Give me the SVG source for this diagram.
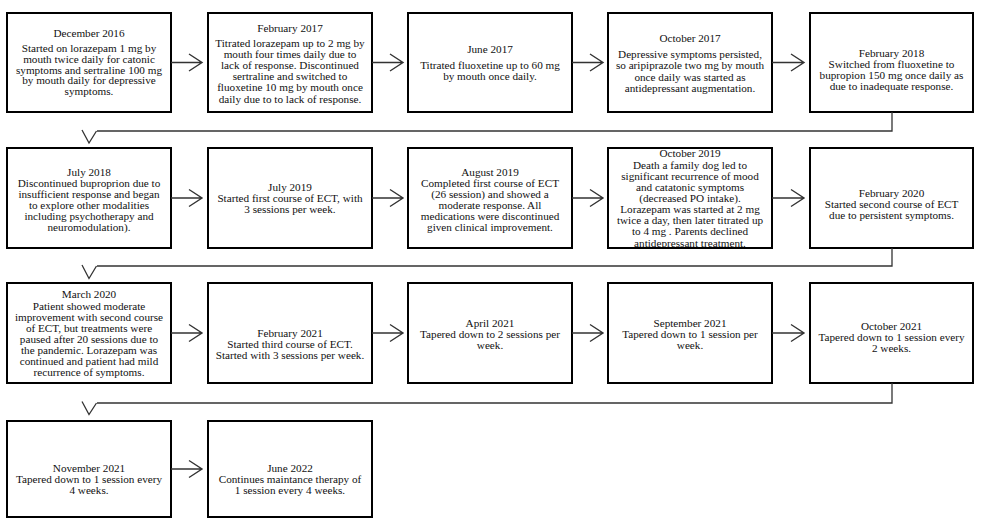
<svg xmlns="http://www.w3.org/2000/svg" width="986" height="526" viewBox="0 0 986 526">
<style>
.box{fill:none;stroke:#000;stroke-width:2}
.t{font-family:"Liberation Serif","Times New Roman",serif;font-size:11.2px;fill:#111;text-anchor:middle}
.c{fill:none;stroke:#333;stroke-width:1.4}
.h{fill:none;stroke:#333;stroke-width:1.3;stroke-linejoin:miter}
</style>
<rect width="986" height="526" fill="#fff"/>

<g id="n1"><text class="t"><tspan x="89" y="37">December 2016</tspan><tspan x="89" y="52">Started on lorazepam 1 mg by</tspan><tspan x="89" y="63">mouth twice daily for catonic</tspan><tspan x="89" y="73.7">symptoms and sertraline 100 mg</tspan><tspan x="89" y="84.4">by mouth daily for depressive</tspan><tspan x="89" y="95">symptoms.</tspan></text><rect class="box" x="7" y="13" width="164" height="99"/></g>

<g id="n2"><text class="t"><tspan x="290" y="32">February 2017</tspan><tspan x="290" y="47">Titrated lorazepam up to 2 mg by</tspan><tspan x="290" y="58">mouth four times daily due to</tspan><tspan x="290" y="69">lack of response. Discontinued</tspan><tspan x="290" y="80">sertraline and switched to</tspan><tspan x="290" y="91">fluoxetine 10 mg by mouth once</tspan><tspan x="290" y="102.5">daily due to to lack of response.</tspan></text><rect class="box" x="208" y="13" width="164" height="99"/></g>

<g id="n3"><text class="t"><tspan x="490" y="53">June 2017</tspan><tspan x="490" y="69">Titrated fluoxetine up to 60 mg</tspan><tspan x="490" y="80">by mouth once daily.</tspan></text><rect class="box" x="408" y="13" width="164" height="99"/></g>

<g id="n4"><text class="t"><tspan x="690" y="42">October 2017</tspan><tspan x="690" y="58">Depressive symptoms persisted,</tspan><tspan x="690" y="69">so aripiprazole two mg by mouth</tspan><tspan x="690" y="80.5">once daily was started as</tspan><tspan x="690" y="91.5">antidepressant augmentation.</tspan></text><rect class="box" x="608" y="13" width="164" height="99"/></g>

<g id="n5"><text class="t"><tspan x="891.5" y="57">February 2018</tspan><tspan x="891.5" y="68">Switched from fluoxetine to</tspan><tspan x="891.5" y="79">bupropion 150 mg once daily as</tspan><tspan x="891.5" y="90">due to inadequate response.</tspan></text><rect class="box" x="810" y="13" width="163" height="99"/></g>

<g id="n6"><text class="t"><tspan x="89" y="175.5">July 2018</tspan><tspan x="89" y="186.5">Discontinued buproprion due to</tspan><tspan x="89" y="197.5">insufficient response and began</tspan><tspan x="89" y="208.5">to explore other modalities</tspan><tspan x="89" y="219.5">including psychotherapy and</tspan><tspan x="89" y="230.5">neuromodulation).</tspan></text><rect class="box" x="7" y="148" width="164" height="100"/></g>

<g id="n7"><text class="t"><tspan x="290" y="191">July 2019</tspan><tspan x="290" y="202">Started first course of ECT, with</tspan><tspan x="290" y="213">3 sessions per week.</tspan></text><rect class="box" x="208" y="148" width="164" height="100"/></g>

<g id="n8"><text class="t"><tspan x="490" y="175.5">August 2019</tspan><tspan x="490" y="186.5">Completed first course of ECT</tspan><tspan x="490" y="197.5">(26 session) and showed a</tspan><tspan x="490" y="208.5">moderate response. All</tspan><tspan x="490" y="219.5">medications were discontinued</tspan><tspan x="490" y="230.5">given clinical improvement.</tspan></text><rect class="box" x="408" y="148" width="164" height="100"/></g>

<g id="n9"><text class="t"><tspan x="690" y="157">October 2019</tspan><tspan x="690" y="168.5">Death a family dog led to</tspan><tspan x="690" y="179.5">significant recurrence of mood</tspan><tspan x="690" y="190.5">and catatonic symptoms</tspan><tspan x="690" y="201.5">(decreased PO intake).</tspan><tspan x="690" y="212.5">Lorazepam was started at 2 mg</tspan><tspan x="690" y="223.5">twice a day, then later titrated up</tspan><tspan x="690" y="234.5">to 4 mg . Parents declined</tspan><tspan x="690" y="246.5">antidepressant treatment.</tspan></text><rect x="600" y="140" width="180" height="7.2" fill="#fff"/><rect x="600" y="249" width="180" height="6" fill="#fff"/><rect class="box" x="608" y="148" width="164" height="100"/></g>

<g id="n10"><text class="t"><tspan x="891.5" y="197">February 2020</tspan><tspan x="891.5" y="208">Started second course of ECT</tspan><tspan x="891.5" y="219">due to persistent symptoms.</tspan></text><rect class="box" x="810" y="148" width="163" height="100"/></g>

<g id="n11"><text class="t"><tspan x="89" y="298">March 2020</tspan><tspan x="89" y="310">Patient showed moderate</tspan><tspan x="89" y="321">improvement with second course</tspan><tspan x="89" y="332">of ECT, but treatments were</tspan><tspan x="89" y="343">paused after 20 sessions due to</tspan><tspan x="89" y="354">the pandemic. Lorazepam was</tspan><tspan x="89" y="365">continued and patient had mild</tspan><tspan x="89" y="376">recurrence of symptoms.</tspan></text><rect class="box" x="7" y="283" width="164" height="100"/></g>

<g id="n12"><text class="t"><tspan x="290" y="337">February 2021</tspan><tspan x="290" y="348">Started third course of ECT.</tspan><tspan x="290" y="359">Started with 3 sessions per week.</tspan></text><rect class="box" x="208" y="283" width="164" height="100"/></g>

<g id="n13"><text class="t"><tspan x="490" y="327">April 2021</tspan><tspan x="490" y="338">Tapered down to 2 sessions per</tspan><tspan x="490" y="349">week.</tspan></text><rect class="box" x="408" y="283" width="164" height="100"/></g>

<g id="n14"><text class="t"><tspan x="690" y="327">September 2021</tspan><tspan x="690" y="338">Tapered down to 1 session per</tspan><tspan x="690" y="349">week.</tspan></text><rect class="box" x="608" y="283" width="164" height="100"/></g>

<g id="n15"><text class="t"><tspan x="891.5" y="330">October 2021</tspan><tspan x="891.5" y="341">Tapered down to 1 session every</tspan><tspan x="891.5" y="352">2 weeks.</tspan></text><rect class="box" x="810" y="283" width="163" height="100"/></g>

<g id="n16"><text class="t"><tspan x="89" y="471.5">November 2021</tspan><tspan x="89" y="482.5">Tapered down to 1 session every</tspan><tspan x="89" y="493.5">4 weeks.</tspan></text><rect class="box" x="7" y="421" width="164" height="96"/></g>

<g id="n17"><text class="t"><tspan x="290" y="471.5">June 2022</tspan><tspan x="290" y="482.5">Continues maintance therapy of</tspan><tspan x="290" y="493.5">1 session every 4 weeks.</tspan></text><rect class="box" x="208" y="421" width="164" height="96"/></g>

<g id="connectors">
<path class="c" d="M171 62.5H202M189 54L202 62.5L189 71"/>
<path class="c" d="M372 62.5H403M390 54L403 62.5L390 71"/>
<path class="c" d="M572 62.5H603M590 54L603 62.5L590 71"/>
<path class="c" d="M772 62.5H804M791 54L804 62.5L791 71"/>
<path class="h" d="M892 112V131H97M82 130L89 143L96.5 131"/>
<path class="c" d="M171 198H202M189 189.5L202 198L189 206.5"/>
<path class="c" d="M372 198H403M390 189.5L403 198L390 206.5"/>
<path class="c" d="M572 198H603M590 189.5L603 198L590 206.5"/>
<path class="c" d="M772 198H804M791 189.5L804 198L791 206.5"/>
<path class="h" d="M892 248V266H97M82 265L89 278.5L96.5 266"/>
<path class="c" d="M171 333H202M189 324.5L202 333L189 341.5"/>
<path class="c" d="M372 333H403M390 324.5L403 333L390 341.5"/>
<path class="c" d="M572 333H603M590 324.5L603 333L590 341.5"/>
<path class="c" d="M772 333H804M791 324.5L804 333L791 341.5"/>
<path class="h" d="M892 383V403H97M82 401.5L89 414.5L96.5 403"/>
<path class="c" d="M171 469H202M189 460.5L202 469L189 477.5"/>
</g>
</svg>
